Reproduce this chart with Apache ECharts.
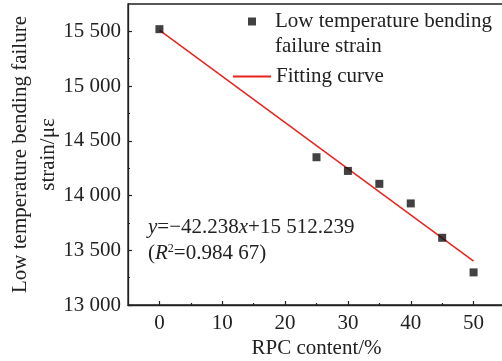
<!DOCTYPE html>
<html>
<head>
<meta charset="utf-8">
<script src="https://cdn.jsdelivr.net/npm/echarts@6/dist/echarts.min.js"></script>
<style>
html,body{margin:0;padding:0;background:#fff;}
#chart{width:502px;height:361px;}
</style>
</head>
<body>
<div id="chart"></div>
<script>
// measured points
let rpc=[0,25,30,35,40,45,50];
let strain=[15520,14350,14225,14107,13928,13614,13298];
// fitting line end points
let fitX=[0,50];
let fitY=[15512.239,13400.339];
// ticks
let xTicks=[0,10,20,30,40,50];
let xMinor=[5,15,25,35,45];
let yTicks=[13000,13500,14000,14500,15000,15500];
let yMinor=[13250,13750,14250,14750,15250];

let font='"Liberation Serif","Times New Roman",serif';
let ink='#222';
let fs=21;

function sep(v){
    let s=String(Math.round(v));
    return s.replace(/(\d)(\d{3})$/,'$1 $2');
}

var myChart=echarts.init(document.getElementById('chart'));

var option={
    animation:false,
    textStyle:{fontFamily:font},
    grid:{left:128,top:4,right:-3,bottom:56,outerBoundsMode:'none',containLabel:false,
        show:true,borderColor:ink,borderWidth:1.3},
    legend:[{
        data:['Low temperature bending\nfailure strain'],
        left:248,top:-16,padding:0,
        itemWidth:8,itemHeight:8,icon:'rect',
        formatter:function(name){return '\n'+name;},
        textStyle:{fontFamily:font,fontSize:fs,color:ink,lineHeight:25,padding:[0,0,0,14]}
    },{
        data:['Fitting curve'],
        left:233,top:66,padding:0,
        itemWidth:38,itemHeight:2,icon:'rect',
        textStyle:{fontFamily:font,fontSize:fs,color:ink}
    }],
    xAxis:[{
        type:'value',min:-5,max:55,
        name:'RPC content/%',nameLocation:'middle',nameGap:33,nameMoveOverlap:false,
        nameTextStyle:{fontFamily:font,fontSize:fs,color:ink},
        splitLine:{show:false},
        axisLine:{onZero:false,lineStyle:{color:ink,width:1.3}},
        axisTick:{inside:true,length:4,customValues:xTicks,lineStyle:{color:ink,width:1.2}},
        axisLabel:{customValues:xTicks,fontFamily:font,fontSize:fs,color:ink,margin:8}
    },{
        type:'value',min:-5,max:55,position:'bottom',
        splitLine:{show:false},
        axisLine:{show:false,onZero:false},
        axisTick:{inside:true,length:2,customValues:xMinor,lineStyle:{color:ink,width:1.2}},
        axisLabel:{show:false}
    }],
    yAxis:[{
        type:'value',min:13000,max:15750,
        name:'Low temperature bending failure\nstrain/\u03bc\u03b5',nameLocation:'middle',nameGap:66,nameMoveOverlap:false,
        nameTextStyle:{fontFamily:font,fontSize:fs,color:ink,lineHeight:28},
        splitLine:{show:false},
        axisLine:{onZero:false,lineStyle:{color:ink,width:1.3}},
        axisTick:{inside:true,length:4,customValues:yTicks,lineStyle:{color:ink,width:1.2}},
        axisLabel:{customValues:yTicks,fontFamily:font,fontSize:fs,color:ink,margin:7,formatter:sep}
    },{
        type:'value',min:13000,max:15750,position:'left',
        splitLine:{show:false},
        axisLine:{show:false,onZero:false},
        axisTick:{inside:true,length:2,customValues:yMinor,lineStyle:{color:ink,width:1.2}},
        axisLabel:{show:false}
    }],
    series:[{
        name:'Low temperature bending\nfailure strain',
        type:'scatter',
        symbol:'rect',symbolSize:8,
        itemStyle:{color:'#111'},
        data:rpc.map((x,i)=>[x,strain[i]]),
        z:3
    },{
        name:'Fitting curve',
        type:'line',
        symbol:'none',
        lineStyle:{color:'#e8231f',width:1.5},
        itemStyle:{color:'#e8231f'},
        data:fitX.map((x,i)=>[x,fitY[i]]),
        z:2
    }],
    graphic:[{
        type:'text',left:148,top:214,
        style:{
            text:'{i|y}=\u221242.238{i|x}+15 512.239\n({i|R}{s|2}=0.984 67)',
            font:fs+'px '+font,fill:ink,lineHeight:26,
            rich:{
                i:{fontStyle:'italic',fontSize:fs,fontFamily:font,lineHeight:26},
                s:{fontSize:12,fontFamily:font,padding:[0,0,8,0],lineHeight:26}
            }
        }
    }]
};

myChart.setOption(option);
</script>
</body>
</html>
